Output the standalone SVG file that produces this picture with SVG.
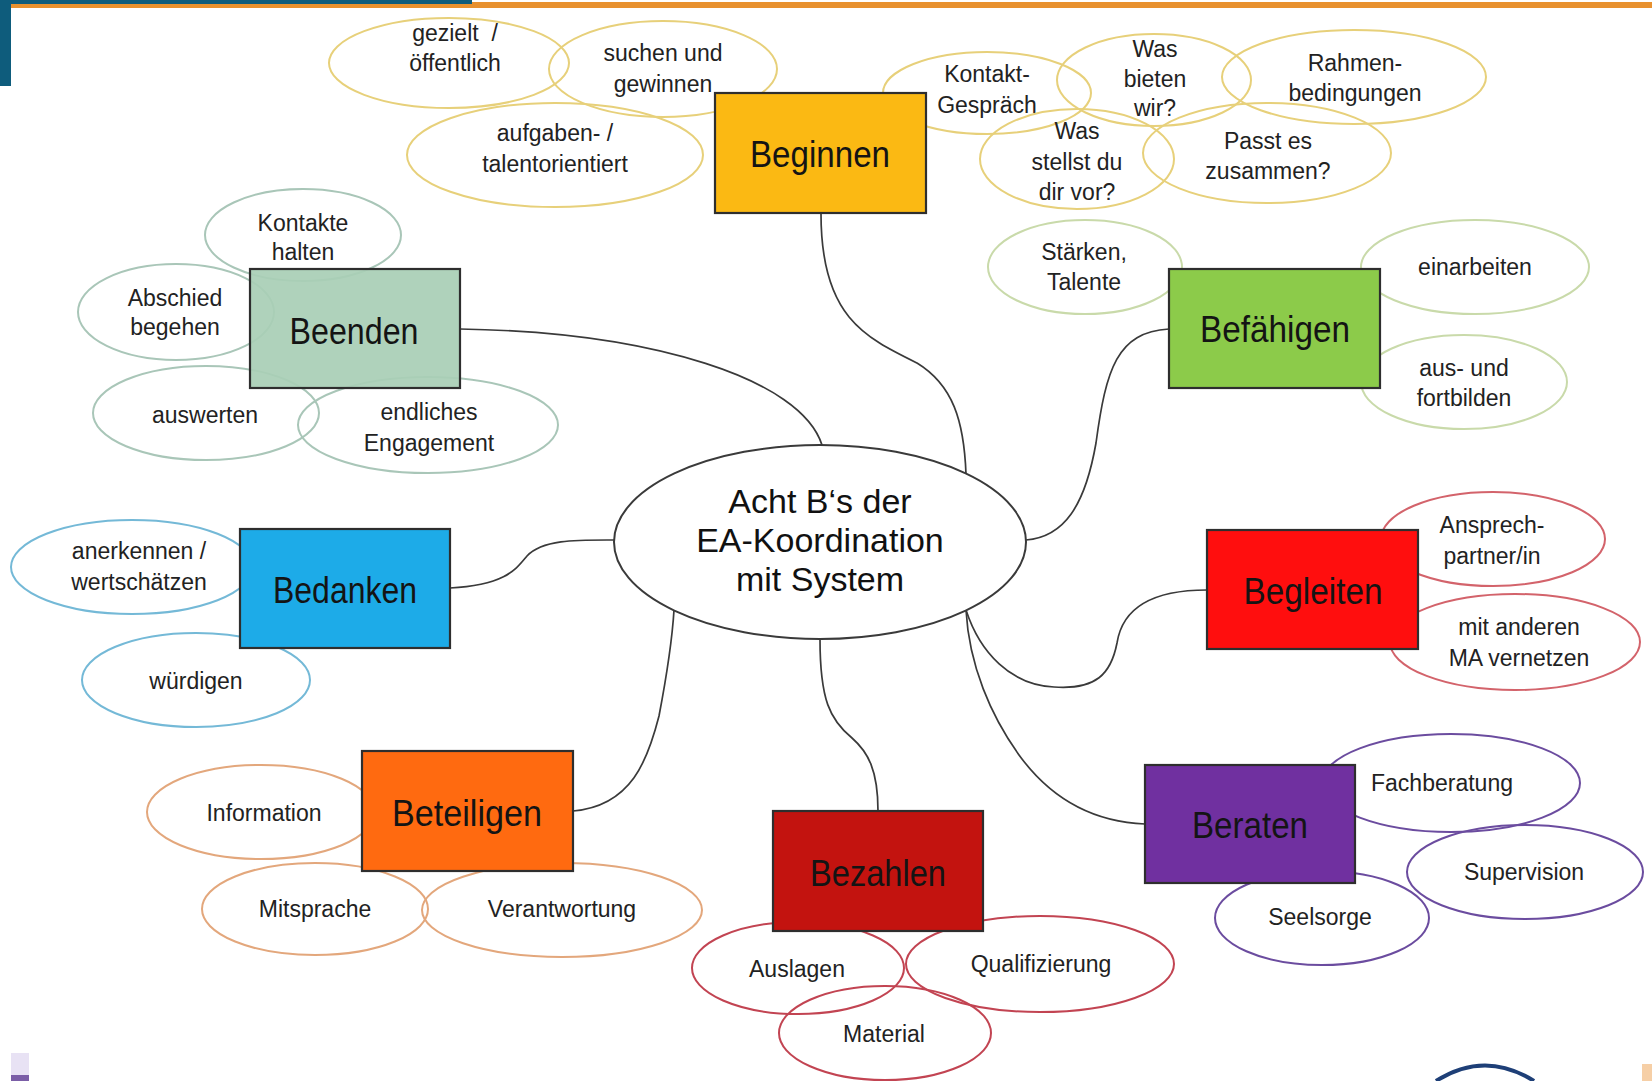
<svg xmlns="http://www.w3.org/2000/svg" width="1652" height="1081" viewBox="0 0 1652 1081">
<style>
  .conn{fill:none;stroke:#3a3a3a;stroke-width:1.7}
  .box{stroke:#2e2e2e;stroke-width:2.2}
  .bub{fill:none;stroke-width:2}
  .t{font-family:"Liberation Sans",Arial,sans-serif;font-size:23px;fill:#222;text-anchor:middle}
  .bt{font-family:"Liberation Sans",Arial,sans-serif;font-size:36px;fill:#141414;text-anchor:middle}
  .ct{font-family:"Liberation Sans",Arial,sans-serif;font-size:34px;fill:#111;text-anchor:middle}
  .yel{stroke:#E7D07A}
  .grn{stroke:#C9DAAA}
  .sag{stroke:#A9C6B8}
  .blu{stroke:#74B9D7}
  .red{stroke:#D3636B}
  .org{stroke:#E3A77C}
  .dred{stroke:#C24452}
  .pur{stroke:#6B4C9F}
</style>
<rect x="0" y="0" width="1652" height="1081" fill="#ffffff"/>
<!-- header -->
<rect x="0" y="2" width="1652" height="6" fill="#E8912F"/>
<rect x="0" y="0" width="472" height="4" fill="#0E5C7C"/>
<rect x="0" y="0" width="11" height="86" fill="#0E5C7C"/>
<!-- footer marks -->
<rect x="11" y="1053" width="18" height="22" fill="#E8E2F4"/>
<rect x="11" y="1075" width="18" height="6" fill="#7B5EA7"/>
<path d="M1436,1081 Q1485,1050 1534,1081" fill="none" stroke="#1E3F77" stroke-width="4"/>
<rect x="1642" y="1064" width="10" height="17" fill="#F6CFA6"/>

<g id="connectors">
  <path class="conn" d="M821,214 C821,316 864,337 917,363 C953,385 964,421 966,474"/>
  <path class="conn" d="M460,329 C653,332 801,379 822,445"/>
  <path class="conn" d="M1169,329 C1117,332 1106,369 1096,443 C1085,506 1064,537 1026,540"/>
  <path class="conn" d="M450,588 C506,585 516,569 527,556 C543,539 579,540 614,540"/>
  <path class="conn" d="M1207,590 C1148,590 1122,611 1117,643 C1111,674 1096,690 1054,687 C1011,685 980,653 966,610"/>
  <path class="conn" d="M1145,824 C1096,822 1054,801 1022,759 C990,716 969,664 966,610"/>
  <path class="conn" d="M820,639 C820,700 830,720 852,738 C868,752 878,770 878,811"/>
  <path class="conn" d="M573,811 C632,806 648,759 659,716 C667,674 672,643 674,610"/>
</g>

<g id="center">
  <ellipse cx="820" cy="542" rx="206" ry="97" fill="#ffffff" stroke="#3a3a3a" stroke-width="2"/>
  <text class="ct" x="820" y="513">Acht B‘s der</text>
  <text class="ct" x="820" y="552">EA-Koordination</text>
  <text class="ct" x="820" y="591">mit System</text>
</g>

<g id="beginnen">
  <g id="b1-gezielt"><ellipse class="bub yel" cx="449" cy="63" rx="120" ry="45"/>
    <text class="t" x="455" y="41">gezielt&#160; /</text><text class="t" x="455" y="71">öffentlich</text></g>
  <g id="b1-suchen"><ellipse class="bub yel" cx="663" cy="69" rx="114" ry="48"/>
    <text class="t" x="663" y="61">suchen und</text><text class="t" x="663" y="92">gewinnen</text></g>
  <g id="b1-aufgaben"><ellipse class="bub yel" cx="555" cy="155" rx="148" ry="52"/>
    <text class="t" x="555" y="141">aufgaben- /</text><text class="t" x="555" y="172">talentorientiert</text></g>
  <g id="b1-kontakt"><ellipse class="bub yel" cx="987" cy="93" rx="104" ry="41"/>
    <text class="t" x="987" y="82">Kontakt-</text><text class="t" x="987" y="113">Gespräch</text></g>
  <g id="b1-bieten"><ellipse class="bub yel" cx="1154" cy="80" rx="97" ry="46"/>
    <text class="t" x="1155" y="57">Was</text><text class="t" x="1155" y="87">bieten</text><text class="t" x="1155" y="116">wir?</text></g>
  <g id="b1-rahmen"><ellipse class="bub yel" cx="1354" cy="77" rx="132" ry="47"/>
    <text class="t" x="1355" y="71">Rahmen-</text><text class="t" x="1355" y="101">bedingungen</text></g>
  <g id="b1-stellst"><ellipse class="bub yel" cx="1077" cy="159" rx="97" ry="50"/>
    <text class="t" x="1077" y="139">Was</text><text class="t" x="1077" y="170">stellst du</text><text class="t" x="1077" y="200">dir vor?</text></g>
  <g id="b1-passt"><ellipse class="bub yel" cx="1267" cy="153" rx="124" ry="50"/>
    <text class="t" x="1268" y="149">Passt es</text><text class="t" x="1268" y="179">zusammen?</text></g>
  <rect class="box" x="715" y="93" width="211" height="120" fill="#FBB913"/>
  <text class="bt" x="820" y="167" textLength="140" lengthAdjust="spacingAndGlyphs">Beginnen</text>
</g>

<g id="befaehigen">
  <g id="b2-staerken"><ellipse class="bub grn" cx="1085" cy="267" rx="97" ry="47"/>
    <text class="t" x="1084" y="260">Stärken,</text><text class="t" x="1084" y="290">Talente</text></g>
  <g id="b2-einarbeiten"><ellipse class="bub grn" cx="1475" cy="267" rx="114" ry="47"/>
    <text class="t" x="1475" y="275">einarbeiten</text></g>
  <g id="b2-fortbilden"><ellipse class="bub grn" cx="1464" cy="382" rx="103" ry="47"/>
    <text class="t" x="1464" y="376">aus- und</text><text class="t" x="1464" y="406">fortbilden</text></g>
  <rect class="box" x="1169" y="269" width="211" height="119" fill="#8CCB4A"/>
  <text class="bt" x="1275" y="342" textLength="150" lengthAdjust="spacingAndGlyphs">Befähigen</text>
</g>

<g id="beenden">
  <g id="b3-kontakte"><ellipse class="bub sag" cx="303" cy="235" rx="98" ry="46"/>
    <text class="t" x="303" y="231">Kontakte</text><text class="t" x="303" y="260">halten</text></g>
  <g id="b3-abschied"><ellipse class="bub sag" cx="176" cy="312" rx="98" ry="48"/>
    <text class="t" x="175" y="306">Abschied</text><text class="t" x="175" y="335">begehen</text></g>
  <g id="b3-auswerten"><ellipse class="bub sag" cx="206" cy="413" rx="113" ry="47"/>
    <text class="t" x="205" y="423">auswerten</text></g>
  <g id="b3-endlich"><ellipse class="bub sag" cx="428" cy="425" rx="130" ry="48"/>
    <text class="t" x="429" y="420">endliches</text><text class="t" x="429" y="451">Engagement</text></g>
  <rect class="box" x="250" y="269" width="210" height="119" fill="#A9CFB6" fill-opacity="0.93" stroke="#3D6B4F"/>
  <text class="bt" x="354" y="344" textLength="129" lengthAdjust="spacingAndGlyphs">Beenden</text>
</g>

<g id="bedanken">
  <g id="b4-anerkennen"><ellipse class="bub blu" cx="132" cy="567" rx="121" ry="47"/>
    <text class="t" x="139" y="559">anerkennen /</text><text class="t" x="139" y="590">wertschätzen</text></g>
  <g id="b4-wuerdigen"><ellipse class="bub blu" cx="196" cy="680" rx="114" ry="47"/>
    <text class="t" x="196" y="689">würdigen</text></g>
  <rect class="box" x="240" y="529" width="210" height="119" fill="#1DABE8"/>
  <text class="bt" x="345" y="603" textLength="144" lengthAdjust="spacingAndGlyphs">Bedanken</text>
</g>

<g id="begleiten">
  <g id="b5-ansprech"><ellipse class="bub red" cx="1493" cy="539" rx="112" ry="47"/>
    <text class="t" x="1492" y="533">Ansprech-</text><text class="t" x="1492" y="564">partner/in</text></g>
  <g id="b5-vernetzen"><ellipse class="bub red" cx="1515" cy="642" rx="125" ry="48"/>
    <text class="t" x="1519" y="635">mit anderen</text><text class="t" x="1519" y="666">MA vernetzen</text></g>
  <rect class="box" x="1207" y="530" width="211" height="119" fill="#FF0E0E"/>
  <text class="bt" x="1313" y="604" textLength="139" lengthAdjust="spacingAndGlyphs">Begleiten</text>
</g>

<g id="beteiligen">
  <g id="b6-information"><ellipse class="bub org" cx="261" cy="812" rx="114" ry="47"/>
    <text class="t" x="264" y="821">Information</text></g>
  <g id="b6-mitsprache"><ellipse class="bub org" cx="315" cy="909" rx="113" ry="46"/>
    <text class="t" x="315" y="917">Mitsprache</text></g>
  <g id="b6-verantwortung"><ellipse class="bub org" cx="562" cy="910" rx="140" ry="47"/>
    <text class="t" x="562" y="917">Verantwortung</text></g>
  <rect class="box" x="362" y="751" width="211" height="120" fill="#FF6A10"/>
  <text class="bt" x="467" y="826" textLength="150" lengthAdjust="spacingAndGlyphs">Beteiligen</text>
</g>

<g id="bezahlen">
  <g id="b7-auslagen"><ellipse class="bub dred" cx="798" cy="968" rx="106" ry="46"/>
    <text class="t" x="797" y="977">Auslagen</text></g>
  <g id="b7-qualifizierung"><ellipse class="bub dred" cx="1040" cy="964" rx="134" ry="48"/>
    <text class="t" x="1041" y="972">Qualifizierung</text></g>
  <g id="b7-material"><ellipse class="bub dred" cx="885" cy="1033" rx="106" ry="47"/>
    <text class="t" x="884" y="1042">Material</text></g>
  <rect class="box" x="773" y="811" width="210" height="120" fill="#C3130F"/>
  <text class="bt" x="878" y="886" textLength="136" lengthAdjust="spacingAndGlyphs">Bezahlen</text>
</g>

<g id="beraten">
  <g id="b8-fachberatung"><ellipse class="bub pur" cx="1451" cy="783" rx="129" ry="49"/>
    <text class="t" x="1442" y="791">Fachberatung</text></g>
  <g id="b8-supervision"><ellipse class="bub pur" cx="1525" cy="872" rx="118" ry="47"/>
    <text class="t" x="1524" y="880">Supervision</text></g>
  <g id="b8-seelsorge"><ellipse class="bub pur" cx="1322" cy="918" rx="107" ry="47"/>
    <text class="t" x="1320" y="925">Seelsorge</text></g>
  <rect class="box" x="1145" y="765" width="210" height="118" fill="#7030A0"/>
  <text class="bt" x="1250" y="838" textLength="116" lengthAdjust="spacingAndGlyphs">Beraten</text>
</g>
</svg>
